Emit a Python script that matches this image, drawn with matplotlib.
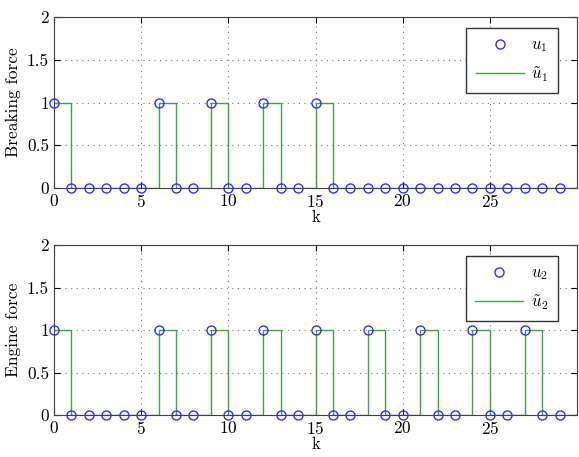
import numpy as np
import matplotlib.pyplot as plt

plt.rcParams['font.family'] = 'serif'
plt.rcParams['font.serif'] = ['cmr10']
plt.rcParams['mathtext.fontset'] = 'cm'
plt.rcParams['axes.formatter.use_mathtext'] = True

# data
k = list(range(30))
u1 = [1, 0, 0, 0, 0, 0, 1, 0, 0, 1, 0, 0, 1, 0, 0, 1, 0, 0, 0, 0, 0, 0, 0, 0, 0, 0, 0, 0, 0, 0]
u2 = [1, 0, 0, 0, 0, 0, 1, 0, 0, 1, 0, 0, 1, 0, 0, 1, 0, 0, 1, 0, 0, 1, 0, 0, 1, 0, 0, 1, 0, 0]
ylabels = ['Breaking force', 'Engine force']
names = ['1', '2']

fig = plt.figure(figsize=(5.79, 4.57), dpi=100)
ax1 = fig.add_axes([54 / 579, 1 - 188 / 457, 523 / 579, 171 / 457])
ax2 = fig.add_axes([54 / 579, 1 - 415 / 457, 523 / 579, 170 / 457])

for ax, u, yl, n in zip([ax1, ax2], [u1, u2], ylabels, names):
    kk = k + [k[-1] + 1]
    uu = u + [u[-1]]
    ax.plot(k, u, 'o', ms=6.5, mfc='none', mec='#3030ff', mew=1.0,
            label=r'$u_%s$' % n, zorder=3, clip_on=False)
    ax.step(kk, uu, where='post', color='#45a045', lw=1.0,
            label=r'$\tilde{u}_%s$' % n, zorder=2)
    ax.set_xlim(0, 30)
    ax.set_ylim(0, 2)
    ax.set_xticks([0, 5, 10, 15, 20, 25])
    ax.set_yticks([0, 0.5, 1, 1.5, 2])
    ax.set_yticklabels(['0', '0.5', '1', '1.5', '2'])
    ax.grid(True, linestyle=(0, (1, 4)), color='#777777', lw=0.8)
    ax.tick_params(direction='in', top=True, right=True, labelsize=12.5, length=4)
    for s in ax.spines.values():
        s.set_color('#404040')
    ax.set_xlabel('k', fontsize=12, labelpad=0)
    ax.set_ylabel(yl, fontsize=12.5, labelpad=4)
    leg = ax.legend(loc='upper right', bbox_to_anchor=(0.963, 0.935), fontsize=12,
                    fancybox=False, edgecolor='#333333', framealpha=1,
                    handlelength=2.9, markerfirst=True, borderpad=0.55,
                    labelspacing=0.65, handletextpad=0.45, borderaxespad=0)
    leg.get_frame().set_linewidth(1.0)

fig.savefig('out.png', dpi=100)
